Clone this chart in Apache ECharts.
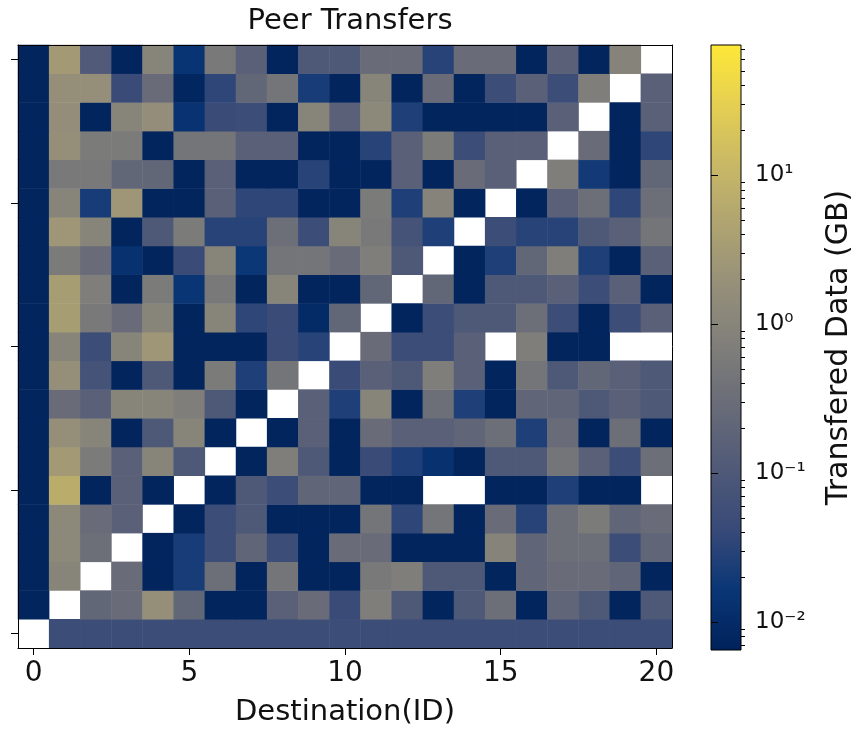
<!DOCTYPE html>
<html><head><meta charset="utf-8">
<script src="https://cdn.jsdelivr.net/npm/echarts@6/dist/echarts.min.js"></script>
<style>html,body{margin:0;padding:0;background:#fff}#c{width:855px;height:732px}</style>
</head><body><div id="c"></div>
<script>
// ---- data ----
const ids = Array.from({length: 21}, (_, i) => String(i));
const xTickStep = 5;
const colorMin = 0.0065, colorMax = 75;
const colorbarMajorTicks = [0.01, 0.1, 1, 10];
const colorbarMinorTicks = [0.007, 0.008, 0.009, 0.02, 0.03, 0.04, 0.05, 0.06, 0.07, 0.08, 0.09,
  0.2, 0.3, 0.4, 0.5, 0.6, 0.7, 0.8, 0.9, 2, 3, 4, 5, 6, 7, 8, 9, 20, 30, 40, 50, 60, 70];
// rows = source id (bottom to top), columns = destination id; null = no transfer (white)
const src0  = [null,0.05,0.05,0.05,0.05,0.05,0.05,0.05,0.05,0.05,0.05,0.05,0.05,0.05,0.05,0.05,0.05,0.05,0.05,0.05,0.05];
const src1  = [0.0075,null,0.22,0.28,1.8,0.22,0.0075,0.0075,0.15,0.28,0.045,0.7,0.1,0.0075,0.1,0.33,0.0075,0.2,0.1,0.0075,0.1];
const src2  = [0.0075,1.0,null,0.28,0.0075,0.022,0.33,0.0075,0.45,0.0075,0.0075,0.55,0.7,0.1,0.1,0.0075,0.2,0.28,0.28,0.2,0.0075];
const src3  = [0.0075,1.2,0.33,null,0.0075,0.022,0.05,0.2,0.05,0.0075,0.28,0.28,0.0075,0.0075,0.0075,0.95,0.2,0.33,0.33,0.05,0.2];
const src4  = [0.0075,1.2,0.28,0.15,null,0.0075,0.05,0.1,0.0075,0.0075,0.0075,0.45,0.035,0.45,0.0075,0.28,0.03,0.33,0.6,0.2,0.28];
const src5  = [0.0075,7,0.0075,0.15,0.0075,null,0.0075,0.1,0.05,0.2,0.2,0.0075,0.0075,null,null,0.0075,0.0075,0.025,0.0075,0.0075,null];
const src6  = [0.0075,3.0,0.6,0.15,1.0,0.1,null,0.0075,0.7,0.1,0.0075,0.045,0.025,0.013,0.0075,0.1,0.1,0.45,0.15,0.05,0.33];
const src7  = [0.0075,1.8,1.0,0.0075,0.1,1.0,0.0075,null,0.0075,0.15,0.0075,0.28,0.15,0.15,0.2,0.33,0.025,0.28,0.0075,0.33,0.0075];
const src8  = [0.0075,0.28,0.15,1.0,1.0,0.7,0.1,0.0075,null,0.15,0.025,1.0,0.0075,0.33,0.025,0.0075,0.2,0.2,0.1,0.15,0.1];
const src9  = [0.0075,1.8,0.07,0.0075,0.1,0.0075,0.6,0.025,0.45,null,0.045,0.15,0.1,0.7,0.15,0.0075,0.45,0.1,0.22,0.15,0.1];
const src10 = [0.0075,1.0,0.05,1.0,2.5,0.0075,0.0075,0.0075,0.045,0.03,null,0.28,0.05,0.05,0.15,null,0.7,0.0075,0.0075,null,null];
const src11 = [0.0075,3.5,0.55,0.28,1.0,0.0075,1.0,0.035,0.045,0.01,0.22,null,0.0075,0.05,0.1,0.1,0.33,0.05,0.0075,0.05,0.15];
const src12 = [0.0075,3.5,0.7,0.0075,0.6,0.016,0.55,0.0075,1.0,0.0075,0.0075,0.22,null,0.22,0.0075,0.1,0.1,0.15,0.05,0.15,0.0075];
const src13 = [0.0075,0.6,0.28,0.013,0.0075,0.045,1.0,0.017,0.45,0.45,0.28,0.7,0.1,null,0.0075,0.025,0.22,0.7,0.025,0.0075,0.15];
const src14 = [0.0075,2.5,1.0,0.0075,0.1,0.6,0.03,0.03,0.33,0.05,1.0,0.55,0.07,0.025,null,0.05,0.03,0.03,0.1,0.15,0.45];
const src15 = [0.0075,1.0,0.022,2.5,0.0075,0.0075,0.15,0.035,0.035,0.0075,0.0075,0.6,0.025,0.95,0.0075,null,0.0075,0.15,0.33,0.035,0.33];
const src16 = [0.0075,0.55,0.55,0.22,0.22,0.0075,0.15,0.0075,0.0075,0.03,0.0075,0.0075,0.15,0.0075,0.28,0.15,null,0.7,0.02,0.0075,0.22];
const src17 = [0.0075,1.8,0.6,0.6,0.0075,0.45,0.45,0.15,0.15,0.0075,0.0075,0.03,0.15,0.6,0.05,0.15,0.15,null,0.28,0.0075,0.035];
const src18 = [0.0075,1.6,0.0075,1.0,1.6,0.014,0.045,0.05,0.0075,1.0,0.15,1.2,0.025,0.0075,0.0075,0.0075,0.0075,0.15,null,0.0075,0.15];
const src19 = [0.0075,1.8,1.8,0.045,0.28,0.008,0.035,0.22,0.45,0.022,0.0075,1.0,0.0075,0.28,0.0075,0.05,0.15,0.05,0.7,null,0.15];
const src20 = [0.0075,3.0,0.11,0.0075,1.0,0.015,0.55,0.15,0.0075,0.1,0.1,0.28,0.28,0.03,0.28,0.28,0.0075,0.15,0.0075,0.95,null];
const transfers = [src0,src1,src2,src3,src4,src5,src6,src7,src8,src9,src10,src11,src12,src13,src14,src15,src16,src17,src18,src19,src20];

// cividis-like colormap (as it appears in the reference)
const cividis = ['#00225a','#0a3676','#384a78','#505a78','#686b78','#7f7e7a','#958f7a','#aea371','#c8b866','#e5cf52','#fee838'];

// ---- build ----
const heatData = [];
transfers.forEach((row, r) => row.forEach((v, c) => {
  if (v !== null) heatData.push([c, r, Math.log10(v)]);
}));
const FONT = 'DejaVu Sans';
const sup = {'-':'\u207B','0':'\u2070','1':'\u00B9','2':'\u00B2','3':'\u00B3'};
const fmtPow = v => { const e = Math.round(Math.log10(v)); return '10' + String(e).split('').map(ch => sup[ch]).join(''); };
const every5 = (i) => i % xTickStep === 0;

const chart = echarts.init(document.getElementById('c'), null, {renderer: 'canvas'});
chart.setOption({
  animation: false,
  backgroundColor: '#fff',
  textStyle: {fontFamily: FONT},
  title: {text: 'Peer Transfers', left: 345, top: 2, textAlign: 'center',
    textStyle: {fontFamily: FONT, fontSize: 29, fontWeight: 'normal', color: '#111'}},
  grid: [
    {left: 18, top: 45, width: 654, height: 605},
    {left: 711, top: 45, width: 31, height: 605}
  ],
  visualMap: {type: 'continuous', show: false, seriesIndex: 0, dimension: 2,
    min: Math.log10(colorMin), max: Math.log10(colorMax), inRange: {color: cividis}},
  xAxis: [
    {gridIndex: 0, type: 'category', data: ids, position: 'bottom', z: 10,
      axisLine: {show: true, lineStyle: {color: '#000', width: 1}},
      axisTick: {show: true, alignWithLabel: true, interval: every5, length: 7, lineStyle: {color: '#000'}},
      axisLabel: {interval: every5, fontSize: 28, color: '#111', margin: 12, fontFamily: FONT},
      splitLine: {show: false},
      name: 'Destination(ID)', nameLocation: 'middle', nameGap: 50,
      nameTextStyle: {fontSize: 29, color: '#111', fontFamily: FONT}},
    {gridIndex: 0, type: 'category', data: ids, position: 'top', z: 10,
      axisLine: {show: true, lineStyle: {color: '#000', width: 1}},
      axisTick: {show: false}, axisLabel: {show: false}, splitLine: {show: false}},
    {gridIndex: 1, type: 'value', min: 0, max: 1, show: false}
  ],
  yAxis: [
    {gridIndex: 0, type: 'category', data: ids, position: 'left', z: 10,
      axisLine: {show: true, lineStyle: {color: '#000', width: 1}},
      axisTick: {show: true, alignWithLabel: true, interval: every5, length: 7, lineStyle: {color: '#000'}},
      axisLabel: {show: false}, splitLine: {show: false}},
    {gridIndex: 0, type: 'category', data: ids, position: 'right', z: 10,
      axisLine: {show: true, lineStyle: {color: '#000', width: 1}},
      axisTick: {show: false}, axisLabel: {show: false}, splitLine: {show: false}},
    {gridIndex: 1, type: 'log', logBase: 10, min: colorMin, max: colorMax, position: 'right', z: 10,
      axisLine: {show: false},
      axisTick: {show: true, length: 7, customValues: colorbarMajorTicks, lineStyle: {color: '#000'}},
      axisLabel: {show: true, customValues: colorbarMajorTicks, formatter: fmtPow, fontSize: 23, color: '#111', margin: 14, fontFamily: FONT},
      splitLine: {show: false},
      name: 'Transfered Data (GB)', nameLocation: 'middle', nameRotate: 90, nameGap: 83,
      nameTextStyle: {fontSize: 30, color: '#111', fontFamily: FONT}},
    {gridIndex: 1, type: 'log', logBase: 10, min: colorMin, max: colorMax, position: 'right', z: 10,
      axisLine: {show: false},
      axisTick: {show: true, length: 4, customValues: colorbarMinorTicks, lineStyle: {color: '#000'}},
      axisLabel: {show: false}, splitLine: {show: false}}
  ],
  series: [
    {type: 'heatmap', xAxisIndex: 0, yAxisIndex: 0, data: heatData, progressive: 0,
      itemStyle: {borderWidth: 0}, emphasis: {disabled: true}, silent: true},
    {type: 'custom', xAxisIndex: 2, yAxisIndex: 2, data: [[0.5, 1]], silent: true,
      renderItem: (params, api) => {
        const cs = params.coordSys;
        const stops = cividis.map((c, i) => ({offset: i / (cividis.length - 1), color: c}));
        return {type: 'rect', shape: {x: cs.x, y: cs.y, width: cs.width, height: cs.height},
          style: {fill: new echarts.graphic.LinearGradient(0, 1, 0, 0, stops), stroke: '#000', lineWidth: 1}};
      }}
  ]
});
</script></body></html>
